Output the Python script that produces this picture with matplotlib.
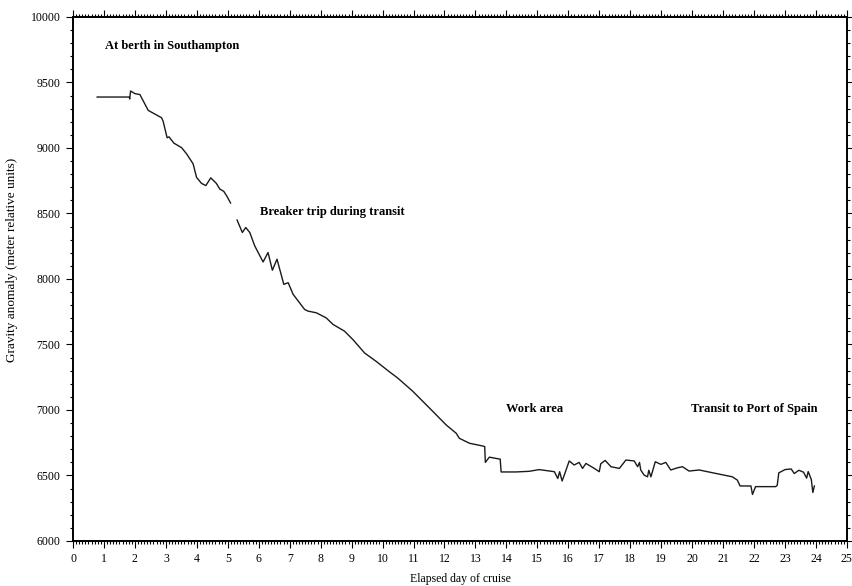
import numpy as np
import matplotlib.pyplot as plt
from matplotlib.ticker import MultipleLocator

plt.rcParams['font.family'] = ['Liberation Serif', 'DejaVu Serif']

# elapsed day / gravity anomaly (nan = breaker trip gap)
day = [0.78, 1.82, 1.83, 1.86, 2.0, 2.16, 2.43, 2.86, 2.91, 3.04, 3.1, 3.26, 3.51,
       3.67, 3.88, 3.99, 4.15, 4.29, 4.45, 4.63, 4.74, 4.87, 4.96, 5.09,
       5.2,
       5.30, 5.47, 5.58, 5.71, 5.87, 6.14, 6.3, 6.44, 6.59, 6.81, 6.95, 7.11,
       7.48, 7.59, 7.86, 8.18, 8.4, 8.77, 9.04, 9.42, 9.8, 10.23, 10.49,
       10.98, 11.52, 12.05, 12.38, 12.48, 12.81, 13.24, 13.3, 13.32, 13.45,
       13.72, 13.8, 13.83, 14.31, 14.74, 15.06, 15.55, 15.66, 15.72, 15.8,
       15.87, 16.03, 16.19, 16.35, 16.46, 16.57, 16.84, 17.0, 17.05, 17.19,
       17.38, 17.65, 17.86, 18.13, 18.24, 18.3, 18.34, 18.45, 18.56, 18.6,
       18.67, 18.81, 18.99, 19.15, 19.31, 19.53, 19.69, 19.9, 20.23, 20.76,
       21.3, 21.46, 21.55, 21.9, 21.95, 22.05, 22.7, 22.75, 22.8, 23.0,
       23.2, 23.3, 23.45, 23.6, 23.7, 23.75, 23.85, 23.9, 23.95]
gravity = [9389, 9389, 9374, 9435, 9415, 9408, 9287, 9231, 9205, 9078, 9085,
           9037, 9002, 8955, 8879, 8776, 8730, 8713, 8772, 8730, 8687, 8669,
           8636, 8580,
           np.nan,
           8450, 8355, 8393, 8355, 8253, 8130, 8202, 8067, 8151, 7959, 7972,
           7883, 7768, 7755, 7742, 7703, 7653, 7602, 7538, 7435, 7370, 7290,
           7244, 7142, 7014, 6887, 6822, 6784, 6746, 6725, 6720, 6600, 6640,
           6628, 6625, 6527, 6527, 6532, 6545, 6529, 6477, 6529, 6458, 6503,
           6611, 6580, 6600, 6554, 6592, 6554, 6529, 6590, 6615, 6567, 6554,
           6618, 6611, 6567, 6600, 6542, 6503, 6490, 6540, 6490, 6605, 6585,
           6600, 6542, 6559, 6567, 6534, 6542, 6516, 6490, 6465, 6420, 6420,
           6355, 6415, 6415, 6425, 6520, 6545, 6550, 6515, 6540, 6525, 6480,
           6530, 6470, 6370, 6420]

fig = plt.figure(figsize=(8.52, 5.86), dpi=100)
ax = fig.add_axes([0.0857, 0.0768, 0.9083, 0.8942])

ax.plot(day, gravity, color='#1a1a1a', lw=1.0)

ax.set_xlim(0, 25)
ax.set_ylim(6000, 10000)
ax.xaxis.set_major_locator(MultipleLocator(1))
ax.xaxis.set_minor_locator(MultipleLocator(0.1))
ax.yaxis.set_major_locator(MultipleLocator(500))
ax.yaxis.set_minor_locator(MultipleLocator(100))
ax.tick_params(which='both', direction='out', top=True, right=True,
               labeltop=False, labelright=False, labelsize=8.5, width=0.8)
ax.tick_params(which='major', length=5, pad=4)
ax.tick_params(which='minor', length=2.5)
for s in ax.spines.values():
    s.set_linewidth(1.4)

ax.set_xlabel('Elapsed day of cruise', fontsize=8.5)
ax.set_ylabel('Gravity anomaly (meter relative units)', fontsize=9.5)
ax.xaxis.set_label_coords(0.5, -0.062)
ax.yaxis.set_label_coords(-0.071, 0.536)

kw = dict(fontsize=9, fontweight='bold', va='center', ha='left')
ax.text(1.03, 9778, 'At berth in Southampton', **kw)
ax.text(6.03, 8513, 'Breaker trip during transit', **kw)
ax.text(14.0, 7004, 'Work area', **kw)
ax.text(19.97, 7004, 'Transit to Port of Spain', **kw)

plt.savefig('out.png', dpi=100)
